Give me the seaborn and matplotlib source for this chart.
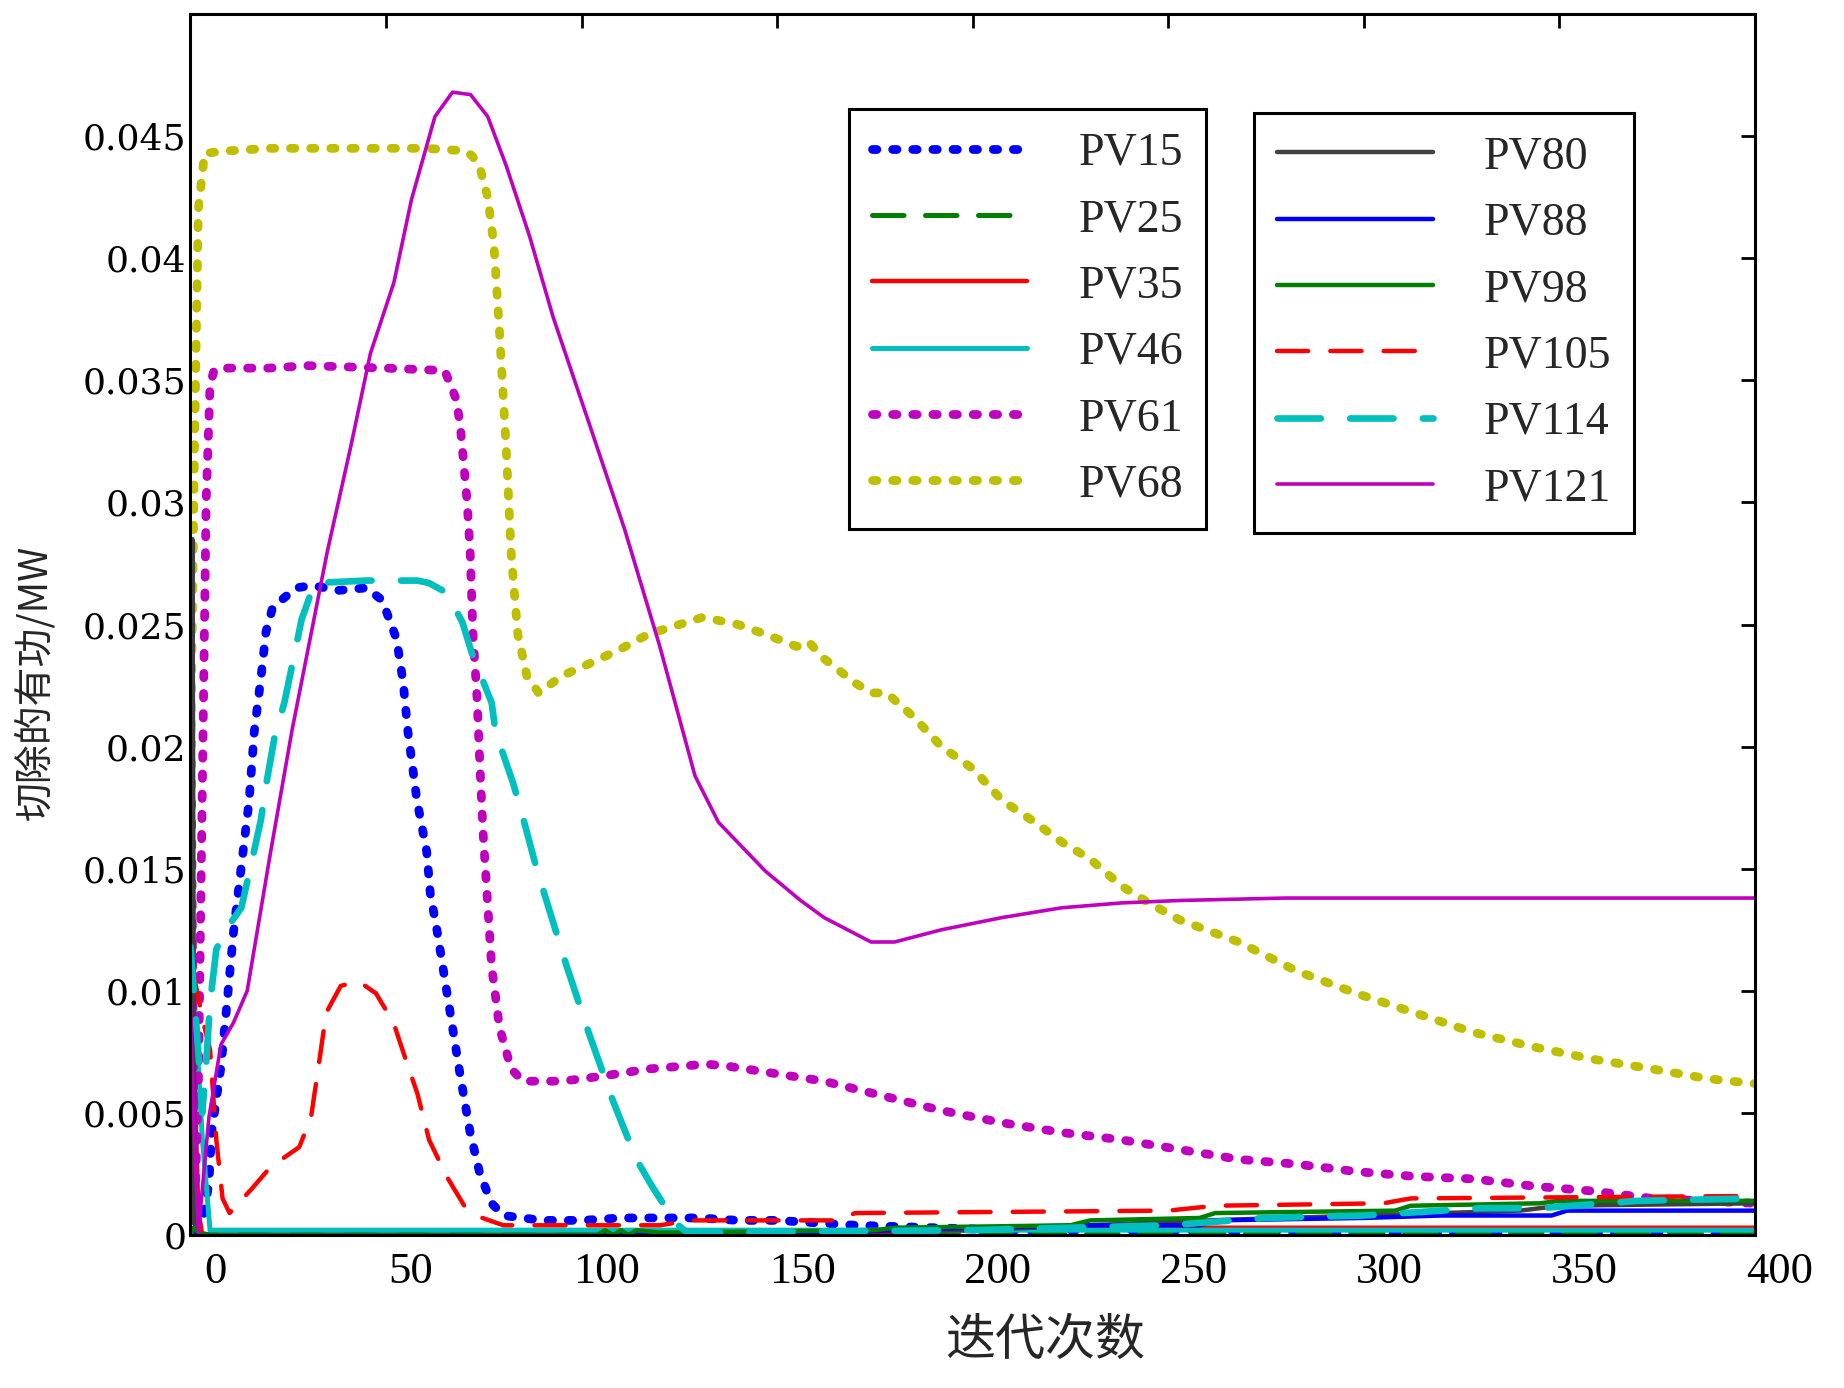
import matplotlib
matplotlib.use("Agg")
import matplotlib.pyplot as plt
import matplotlib.transforms as mtrans
from matplotlib.font_manager import FontProperties
import seaborn as sns

# ---- data ----
x15 = [0, 1, 3, 4.7, 5.4, 7.8, 9.4, 11, 13, 15, 16.3, 18, 19.3, 21, 24, 27, 31, 38, 45, 49,
       52.7, 54.4, 55.6, 57.9, 60.4, 61.3, 63, 65, 67, 69, 71.5, 74, 77, 80, 90, 100, 110, 120,
       130, 140, 150, 170, 190, 210, 230, 250, 300, 350, 400]
y15 = [0.001, 0.0002, 0.0005, 0.0021, 0.0042, 0.0069, 0.0096, 0.0124, 0.0151, 0.0178, 0.0206,
       0.0228, 0.0247, 0.0257, 0.0261, 0.0265, 0.0266, 0.0264, 0.0265, 0.026, 0.0244, 0.0226,
       0.0206, 0.0178, 0.0157, 0.014, 0.0125, 0.0105, 0.0085, 0.0065, 0.0042, 0.0025, 0.0013,
       0.0008, 0.0006, 0.0006, 0.0007, 0.0007, 0.0007, 0.0006, 0.0006, 0.0004, 0.0003, 0.0002,
       0.0002, 0.0002, 0.0001, 0.0001, 0.0001]

x25 = [0, 1, 2, 5, 100, 200, 300, 400]
y25 = [0.0001, 0.0003, 0.0001, 0.0, 0.0, 0.0, 0.0001, 0.0001]

x35 = [0, 1, 2, 3, 150, 200, 250, 400]
y35 = [0.0105, 0.0065, 0.001, 0.0, 0.0, 0.0002, 0.0003, 0.0003]

x46 = [0, 1, 1.5, 3, 5, 200, 400]
y46 = [0.0115, 0.0095, 0.0084, 0.004, 0.0002, 0.0002, 0.0002]

x61 = [0, 1, 2, 3, 4, 5, 6, 7, 20, 30, 50, 65, 68, 69, 70.7, 71.5, 72.2, 73.3, 74, 74.8, 75.8,
       77, 79, 82, 85, 95, 105, 117, 132, 138, 150, 162, 177, 192, 207.5, 222.7, 238, 253, 268,
       283, 298, 313, 328, 343.5, 358.6, 373.7, 400]
y61 = [0.0235, 0.0005, 0.006, 0.018, 0.03, 0.0348, 0.0354, 0.0355, 0.0355, 0.0356, 0.0355,
       0.0354, 0.0342, 0.0331, 0.0301, 0.028, 0.0247, 0.0219, 0.0192, 0.0165, 0.014, 0.011,
       0.0085, 0.0068, 0.0063, 0.0063, 0.0065, 0.0068, 0.007, 0.0069, 0.0066, 0.0063, 0.0057,
       0.0051, 0.0046, 0.0042, 0.0039, 0.0035, 0.0031, 0.0029, 0.0026, 0.0024, 0.0023, 0.002,
       0.0018, 0.0015, 0.0013]

x68 = [0, 1, 2, 3.6, 10, 20, 40, 60, 70, 72, 74, 76, 77.6, 79, 80.7, 82, 83.7, 86, 89, 95, 102,
       110, 117, 125, 131, 140, 147, 155, 158, 162, 170, 174, 178, 185, 192, 200, 207.5, 215,
       222.7, 230, 238, 245, 253, 268, 283, 298, 313, 328, 343.5, 358.6, 373.7, 388, 400]
y68 = [0.019, 0.032, 0.042, 0.0443, 0.0444, 0.0445, 0.0445, 0.0445, 0.0444, 0.0442, 0.0437,
       0.0425, 0.0405, 0.037, 0.0323, 0.0279, 0.0246, 0.0229, 0.0222, 0.0229, 0.0234, 0.024,
       0.0246, 0.025, 0.0253, 0.025, 0.0246, 0.0241, 0.0243, 0.0236, 0.0226, 0.0222, 0.0222,
       0.0212, 0.02, 0.0191, 0.0178, 0.017, 0.0161, 0.0154, 0.0143, 0.0136, 0.0129, 0.012,
       0.0108, 0.0099, 0.0091, 0.0083, 0.0077, 0.0072, 0.0068, 0.0064, 0.0062]

x80 = [0, 0.5, 1, 2, 100, 150, 200, 230, 260, 300, 340, 350, 400]
y80 = [0.0005, 0.0285, 0.0005, 0.0, 0.0, 0.0001, 0.0002, 0.0004, 0.0006, 0.0008, 0.001, 0.0012, 0.0013]

x88 = [0, 1, 2, 150, 180, 200, 230, 258, 262, 300, 320, 348, 352, 400]
y88 = [0.0, 0.0002, 0.0, 0.0, 0.0002, 0.0003, 0.0004, 0.0004, 0.0006, 0.0007, 0.0008, 0.0008, 0.001, 0.001]

x98 = [0, 1, 2, 3, 104, 106, 108, 110, 112, 114, 120, 175, 180, 225, 230, 258, 262, 308, 312,
       345, 350, 400]
y98 = [0.0, 0.0003, 0.0001, 0.0, 0.0, 0.0002, 0.0, 0.0002, 0.0, 0.0002, 0.0001, 0.0002, 0.0003,
       0.0004, 0.0006, 0.0007, 0.0009, 0.001, 0.0012, 0.0013, 0.0014, 0.0014]

x105 = [0, 1, 3.3, 5, 6.6, 8.2, 10, 15.7, 20, 23.3, 27.8, 30.8, 33, 34.7, 38.4, 42.9, 47.4, 51.9,
        55, 58, 61, 65.5, 70, 74.6, 80, 120, 128, 165, 170, 250, 262, 305, 312, 400]
y105 = [0.0105, 0.0105, 0.0087, 0.0076, 0.0039, 0.0015, 0.0009, 0.0019, 0.0027, 0.0031, 0.0036,
        0.0048, 0.0072, 0.0091, 0.0102, 0.0104, 0.0099, 0.0087, 0.0072, 0.0058, 0.0039, 0.0024,
        0.0012, 0.0007, 0.0004, 0.0004, 0.0006, 0.0006, 0.0009, 0.001, 0.0012, 0.0013, 0.0015,
        0.0016]

x114 = [0, 1, 2, 3, 4, 5, 6.6, 9, 13, 15.4, 18, 19.3, 21.5, 24, 26.6, 28.4, 31.7, 45, 58, 61,
        65.5, 69.5, 72, 77, 78, 82.5, 85, 88.5, 96, 102, 108, 114, 118, 124, 127, 200, 250, 275,
        300, 330, 345, 370, 400]
y114 = [0.0118, 0.0097, 0.0075, 0.005, 0.007, 0.0095, 0.0117, 0.0125, 0.0134, 0.0151, 0.017,
        0.0184, 0.0204, 0.0218, 0.0238, 0.0252, 0.0267, 0.0268, 0.0268, 0.0267, 0.0263, 0.0251,
        0.0238, 0.0218, 0.0206, 0.0185, 0.0171, 0.015, 0.0111, 0.0082, 0.0055, 0.0031, 0.002,
        0.0005, 0.0001, 0.0002, 0.0004, 0.0007, 0.0008, 0.0011, 0.0011, 0.0014, 0.0015]

x121 = [0, 1, 2, 4.7, 7.8, 11, 14.5, 20.5, 26, 35, 41, 46, 52, 56.5, 62.5, 67, 71.6, 76, 80.7,
        86.7, 92.7, 102, 111, 120, 129, 135, 147, 156, 162, 174, 180, 192, 207.5, 222.7, 238,
        253, 280, 400]
y121 = [0.0095, 0.004, 0.0001, 0.0048, 0.0078, 0.0087, 0.01, 0.0157, 0.0207, 0.028, 0.0323,
        0.0361, 0.039, 0.0424, 0.0458, 0.0468, 0.0467, 0.0458, 0.0438, 0.0409, 0.0376, 0.0332,
        0.0289, 0.0241, 0.0188, 0.0169, 0.0149, 0.0137, 0.013, 0.012, 0.012, 0.0125, 0.013,
        0.0134, 0.0136, 0.0137, 0.0138, 0.0138]

names = ['PV15', 'PV25', 'PV35', 'PV46', 'PV61', 'PV68',
         'PV80', 'PV88', 'PV98', 'PV105', 'PV114', 'PV121']
xs = [x15, x25, x35, x46, x61, x68, x80, x88, x98, x105, x114, x121]
ys = [y15, y25, y35, y46, y61, y68, y80, y88, y98, y105, y114, y121]

xticks = [0, 50, 100, 150, 200, 250, 300, 350, 400]
yticks = [0, 0.005, 0.01, 0.015, 0.02, 0.025, 0.03, 0.035, 0.04, 0.045]
ytick_labels = ['0', '0.005', '0.01', '0.015', '0.02', '0.025', '0.03', '0.035', '0.04', '0.045']

# MATLAB-ish colours and line styles
DOT = (0, (0.5, 1.8))
colors = ['#0000ff', '#007f00', '#ff0000', '#00bfbf', '#bf00bf', '#bfbf00',
          '#404040', '#0000ff', '#007f00', '#ff0000', '#00bfbf', '#bf00bf']
styles = [DOT, (0, (6.3, 4.3)), '-', '-', DOT, DOT,
          '-', '-', '-', (0, (7.0, 5.0)), (0, (6.5, 4.4)), '-']
widths = [6.3, 3.6, 3.2, 3.6, 6.3, 6.3, 3.2, 3.2, 3.2, 3.2, 4.8, 2.6]

sns.set_theme(style="white")
plt.rcParams['font.family'] = ['Liberation Serif', 'Noto Sans CJK SC']
CJK = ['Noto Sans CJK SC', 'DejaVu Sans']

fig = plt.figure(figsize=(18.44, 13.88), dpi=100)
ax = fig.add_axes([0.1033, 0.1102, 0.8484, 0.8797])

lines = []
for x, y, c, ls, lw, n in zip(xs, ys, colors, styles, widths, names):
    sns.lineplot(x=x, y=y, ax=ax, color=c, linestyle=ls, linewidth=lw,
                 dash_capstyle='round', solid_capstyle='round',
                 estimator=None, sort=False, label=n, legend=False)
    lines.append(ax.lines[-1])

ax.set_xlim(0, 400)
ax.set_ylim(0, 0.05)
ax.set_xticks(xticks)
ax.set_yticks(yticks)
ax.set_yticklabels(ytick_labels)

for s in ax.spines.values():
    s.set_linewidth(2.2)
    s.set_color('black')
ax.tick_params(direction='in', top=True, right=True, length=10, width=2, colors='black')
ax.tick_params(axis='x', labelsize=32, pad=12)
ax.tick_params(axis='y', labelsize=26, pad=3)

# labels in the source image sit a little right of their ticks
offset = mtrans.ScaledTranslation(0.25, 0, fig.dpi_scale_trans)
for lab in ax.get_xticklabels():
    lab.set_fontfamily('Liberation Serif')
    lab.set_transform(lab.get_transform() + offset)
for lab in ax.get_yticklabels():
    lab.set_fontfamily('DejaVu Serif')

ax.set_xlabel('迭代次数', fontsize=36, fontfamily=CJK)
ax.xaxis.label.set_va('center')
ax.xaxis.set_label_coords(0.546, -0.087)
ax.set_ylabel('切除的有功/MW', fontsize=28, fontfamily=CJK)
ax.yaxis.label.set_va('center')
ax.yaxis.set_label_coords(-0.0994, 0.453)

leg_font = FontProperties(family='Liberation Serif', size=33)
leg_kw = dict(loc='upper left', frameon=True, fancybox=False, edgecolor='black',
              framealpha=1, prop=leg_font, handlelength=3.39, handletextpad=1.12,
              labelspacing=0.52, borderpad=0.5, borderaxespad=0)
leg1 = ax.legend(lines[:6], names[:6], bbox_to_anchor=(0.421, 0.922), **leg_kw)
leg1.get_frame().set_linewidth(2.2)
ax.add_artist(leg1)
leg2 = ax.legend(lines[6:], names[6:], bbox_to_anchor=(0.680, 0.919), **leg_kw)
leg2.get_frame().set_linewidth(2.2)

fig.savefig('out.png', dpi=100, facecolor='white')
